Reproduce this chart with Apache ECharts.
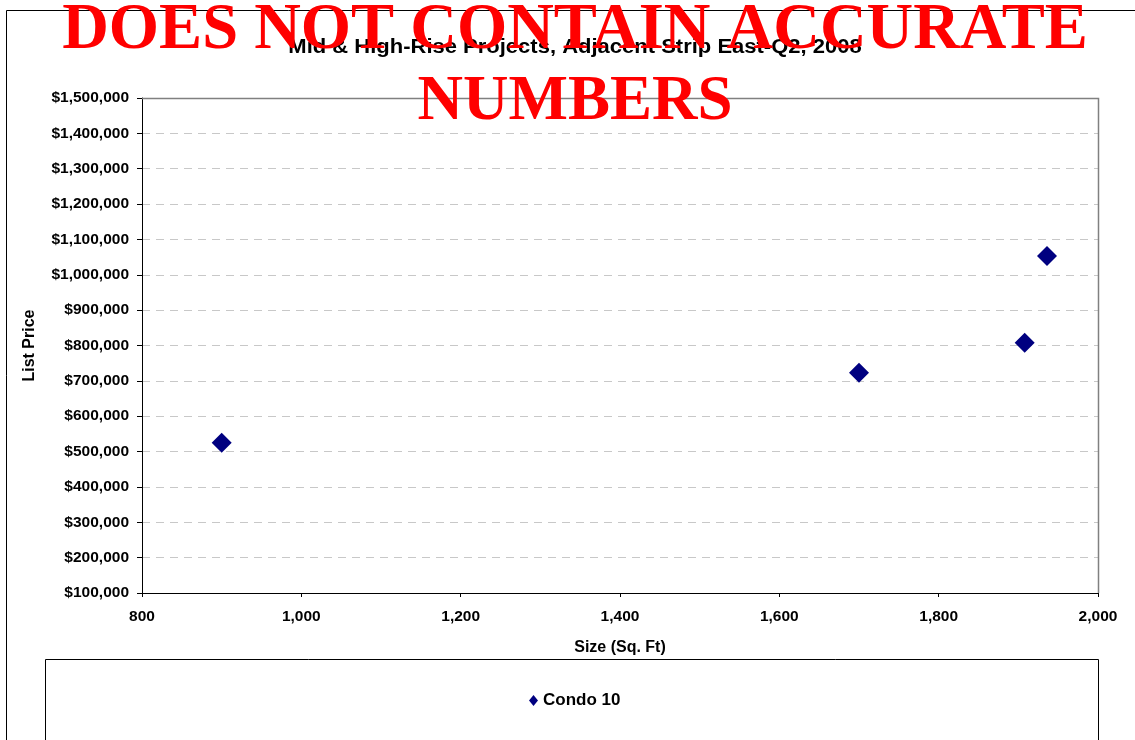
<!DOCTYPE html>
<html>
<head>
<meta charset="utf-8">
<script src="https://cdn.jsdelivr.net/npm/echarts@6/dist/echarts.min.js"></script>
<style>
  html, body { margin: 0; padding: 0; background: #fff; }
  #chart { width: 1135px; height: 740px; }
</style>
</head>
<body>
<div id="chart"></div>
<script>
// data
var sizes = [900, 1700, 1908, 1936]
var prices = [525000, 723000, 808000, 1053000]
var seriesName = 'Condo 10'
var titleText = 'Mid & High-Rise Projects, Adjacent Strip East-Q2, 2008'
var stampLines = ['DOES NOT CONTAIN ACCURATE', 'NUMBERS']

var points = []
for (var i = 0; i < sizes.length; i++) {
    points.push([sizes[i], prices[i]])
}

function money(v) {
    return '$' + v.toLocaleString('en-US')
}

var font = '"Liberation Sans", Arial, sans-serif'
var serif = '"Liberation Serif", "Times New Roman", serif'
var chart = echarts.init(document.getElementById('chart'))

var option = {
    animation: false,
    backgroundColor: '#fff',
    grid: { left: 142, right: 37, top: 98, bottom: 147, show: false },
    xAxis: {
        type: 'value',
        min: 800, max: 2000, interval: 200,
        name: 'Size (Sq. Ft)',
        nameLocation: 'middle',
        nameGap: 47,
        nameTextStyle: { fontFamily: font, fontWeight: 'bold', fontSize: 16, color: '#000' },
        axisLine: { onZero: false, lineStyle: { color: '#000', width: 1 } },
        axisTick: { show: true, length: 4, lineStyle: { color: '#000' } },
        axisLabel: {
            margin: 16,
            fontFamily: font, fontWeight: 'bold', fontSize: 15.5, color: '#000',
            formatter: function (v) { return v.toLocaleString('en-US') }
        },
        splitLine: { show: false }
    },
    yAxis: {
        type: 'value',
        min: 100000, max: 1500000, interval: 100000,
        name: 'List Price',
        nameLocation: 'middle',
        nameGap: 104,
        nameTextStyle: { fontFamily: font, fontWeight: 'bold', fontSize: 16, color: '#000' },
        axisLine: { show: true, onZero: false, lineStyle: { color: '#000', width: 1 } },
        axisTick: { show: true, length: 5, lineStyle: { color: '#000' } },
        axisLabel: {
            margin: 13,
            fontFamily: font, fontWeight: 'bold', fontSize: 15.5, color: '#000',
            formatter: money
        },
        splitLine: { show: true, lineStyle: { color: '#c8c8c8', type: [8, 6], width: 1 } }
    },
    legend: {
        data: [{ name: seriesName, icon: 'diamond' }],
        left: 524, top: 687,
        itemWidth: 9, itemHeight: 11, itemGap: 6,
        textStyle: { fontFamily: font, fontWeight: 'bold', fontSize: 17, color: '#000' }
    },
    series: [{
        name: seriesName,
        type: 'scatter',
        symbol: 'diamond',
        symbolSize: [20, 20],
        itemStyle: { color: '#000080', opacity: 1 },
        data: points,
        z: 3
    }],
    graphic: [
        // outer chart border
        { type: 'polyline', shape: { points: [[6.5, 740], [6.5, 10.5], [1135, 10.5]] },
          style: { stroke: '#000', fill: null, lineWidth: 1 }, z: 1 },
        // plot area top / right edges
        { type: 'polyline', shape: { points: [[142, 98.5], [1098.5, 98.5], [1098.5, 593]] },
          style: { stroke: '#808080', fill: null, lineWidth: 1.5 }, z: 1 },
        // legend box
        { type: 'polyline', shape: { points: [[45.5, 740], [45.5, 659.5], [1098.5, 659.5], [1098.5, 740]] },
          style: { stroke: '#000', fill: null, lineWidth: 1 }, z: 1 },
        { type: 'text', x: 575, y: 47, scaleX: 1.1, z: 10,
          style: { text: titleText, align: 'center', verticalAlign: 'middle',
                   font: 'bold 20px ' + font, fill: '#000' } },
        { type: 'text', x: 575, y: 31, scaleX: 1.025, scaleY: 1.04, z: 20,
          style: { text: stampLines[0], align: 'center', verticalAlign: 'middle',
                   font: 'bold 63px ' + serif, fill: '#ff0000' } },
        { type: 'text', x: 575, y: 103, z: 20,
          style: { text: stampLines[1], align: 'center', verticalAlign: 'middle',
                   font: 'bold 63px ' + serif, fill: '#ff0000' } }
    ]
}
chart.setOption(option)
</script>
</body>
</html>
